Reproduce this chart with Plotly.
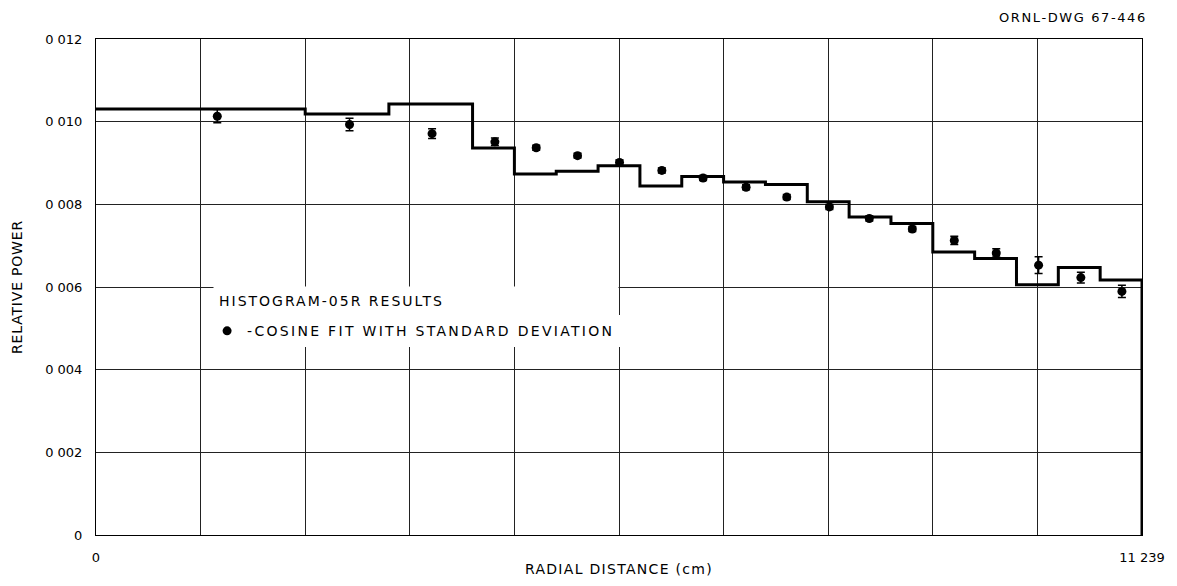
import plotly.graph_objects as go

# ---- data ----
x_max = 11.239
# histogram bin edges (cm) and relative power per bin (HISTOGRAM-05R results)
hist_edges = [0.0, 2.2478, 3.1469, 4.0460, 4.4956, 4.9452, 5.3947, 5.8443, 6.2938,
              6.7434, 7.1930, 7.6425, 8.0921, 8.5416, 8.9912, 9.4408, 9.8903,
              10.3399, 10.7894, 11.239]
hist_power = [0.010306, 0.010187, 0.010425, 0.009364, 0.008732, 0.008803, 0.008934,
              0.008445, 0.008672, 0.008541, 0.008481, 0.008064, 0.007694, 0.007539,
              0.006847, 0.006687, 0.006053, 0.006472, 0.006172]

# cosine fit points with standard deviation
fit_r = [1.303, 2.724, 3.611, 4.286, 4.730, 5.174, 5.625, 6.080, 6.523, 6.985,
         7.422, 7.880, 8.309, 8.771, 9.222, 9.673, 10.128, 10.582, 11.023]
fit_power = [0.010132, 0.009932, 0.009710, 0.009512, 0.009369, 0.009178, 0.009011,
             0.008820, 0.008636, 0.008414, 0.008176, 0.007937, 0.007658, 0.007403,
             0.007126, 0.006823, 0.006529, 0.006227, 0.005893]
fit_sd = [0.00016, 0.00015, 0.00012, 0.00009, 0.00006, 0.00006, 0.00006, 0.00006,
          0.00006, 0.00006, 0.00006, 0.00006, 0.00006, 0.00006, 0.00010, 0.00010,
          0.00020, 0.00013, 0.00015]

y_ticks = [0, 0.002, 0.004, 0.006, 0.008, 0.010, 0.012]
y_tick_text = ["0", "0 002", "0 004", "0 006", "0 008", "0 010", "0 012"]
x_grid = [x_max * i / 10 for i in range(11)]
x_tick_text = ["0"] + [""] * 9 + ["11 239"]

FONT = "DejaVu Sans"


def spaced(text, px):
    return f'<span style="letter-spacing:{px}px">{text}</span>'


# step line: extend last value to final edge, then drop to zero
step_x = list(hist_edges) + [hist_edges[-1]]
step_y = list(hist_power) + [hist_power[-1], 0]

fig = go.Figure()
fig.add_trace(go.Scatter(
    x=step_x, y=step_y, mode="lines", line=dict(shape="hv", color="black", width=3),
    showlegend=False, hoverinfo="skip"))
fig.add_trace(go.Scatter(
    x=fit_r, y=fit_power, mode="markers",
    marker=dict(color="black", size=9),
    error_y=dict(type="data", array=fit_sd, visible=True, color="black",
                 thickness=1.5, width=4),
    name=spaced("-COSINE FIT WITH STANDARD DEVIATION", 2.3)))

fig.update_layout(
    width=1177, height=586,
    margin=dict(l=96, r=26, t=39, b=44),
    paper_bgcolor="white", plot_bgcolor="white",
    font=dict(family=FONT, color="black", size=13),
    showlegend=True,
    legend=dict(
        x=0.1062, y=0.443, xanchor="left", yanchor="top",
        bgcolor="white", borderwidth=0,
        font=dict(size=14, family=FONT), itemwidth=30,
    ),
    xaxis=dict(
        range=[0, x_max], tickmode="array", tickvals=x_grid, ticktext=x_tick_text,
        showgrid=True, gridcolor="#222", gridwidth=1, zeroline=False,
        showline=True, linecolor="black", linewidth=1, mirror=True,
        ticks="", ticklabelstandoff=10, tickfont=dict(size=13),
        title=dict(text=spaced("RADIAL DISTANCE (cm)", 1.3), font=dict(size=14),
                   standoff=0),
    ),
    yaxis=dict(
        range=[0, 0.012], tickmode="array", tickvals=y_ticks, ticktext=y_tick_text,
        showgrid=True, gridcolor="#222", gridwidth=1, zeroline=False,
        showline=True, linecolor="black", linewidth=1, mirror=True,
        ticks="", ticklabelstandoff=10, tickfont=dict(size=13),
        title=dict(text=spaced("RELATIVE POWER", 0.8), font=dict(size=14), standoff=19),
    ),
    annotations=[
        dict(text=spaced("ORNL-DWG 67-446", 1.6), xref="paper", yref="paper",
             x=1.0065, y=1.0, xanchor="right", yanchor="bottom", yshift=12,
             showarrow=False, font=dict(size=13, family=FONT)),
        dict(text=spaced("HISTOGRAM-05R RESULTS", 2.0), xref="paper", yref="paper",
             x=0.1118, y=0.4712, xanchor="left", yanchor="middle",
             width=394, height=18, align="left", valign="middle",
             bgcolor="white", borderpad=5, showarrow=False,
             font=dict(size=14, family=FONT)),
    ],
)

fig.write_html(
    "out.html",
    config={"displayModeBar": False},
    post_script=(
        "document.documentElement.style.margin='0';"
        "document.documentElement.style.overflow='hidden';"
        "document.body.style.margin='0';document.body.style.overflow='hidden';"
    ),
)
